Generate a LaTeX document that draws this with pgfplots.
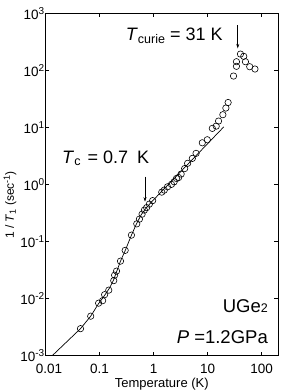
\documentclass[border=0pt]{standalone}
\usepackage{pgfplots}
\pgfplotsset{compat=1.18}
\usepackage{pgfplotstable}
\usepackage{fontspec}
\setmainfont{Liberation Sans}
\usetikzlibrary{arrows.meta}

\newcommand{\tenp}[1]{10\raisebox{5bp}{\fontsize{10bp}{10bp}\selectfont #1}}

\pgfplotstableread{
T R
0.0444 0.00298
0.0686 0.00493
0.0961 0.00834
0.114 0.00923
0.124 0.01175
0.148 0.0141
0.183 0.0207
0.190 0.0258
0.206 0.0304
0.244 0.0455
0.298 0.0703
0.389 0.130
0.488 0.205
0.546 0.248
0.612 0.303
0.675 0.357
0.743 0.395
0.834 0.455
0.959 0.524
1.415 0.738
1.574 0.801
1.808 0.915
2.14 1.01
2.40 1.12
2.65 1.28
2.90 1.33
3.23 1.53
3.75 1.91
4.26 2.36
5.21 2.88
6.10 3.53
7.96 5.41
9.84 6.11
12.2 9.68
14.4 10.6
15.9 13.0
19.1 16.8
21.7 22.0
23.9 27.5
30.1 80.1
34.1 118.6
34.1 142.7
40.4 194.6
46.5 177.5
50.0 142.7
60.0 116.6
75.0 106.3
}\circdata

\pgfplotstableread{
T R
0.0133 0.001
0.0444 0.00298
0.0686 0.00493
0.096 0.0082
0.124 0.0114
0.153 0.0154
0.181 0.0211
0.244 0.0455
0.30 0.0707
0.389 0.130
0.48 0.203
0.59 0.297
0.73 0.39
0.94 0.51
19.9 10.3
}\fitdata

\begin{document}
\begin{tikzpicture}
\begin{axis}[
  scale only axis, width=232.5bp, height=342.2bp,
  xmode=log, ymode=log,
  xmin=0.01, xmax=200, ymin=1e-3, ymax=1e3,
  xtick={0.01,0.1,1,10,100},
  xticklabels={\hspace*{7bp}0.01,0.1,1,10,100},
  ytick={1e-3,1e-2,1e-1,1,10,100,1000},
  yticklabels={\tenp{-3},\tenp{-2},\tenp{-1},\tenp{0},\tenp{1},\tenp{2},\tenp{3}},
  xminorticks=false, yminorticks=false,
  tick align=inside, major tick length=4bp,
  tick style={line width=0.6bp, black},
  axis line style={line width=0.8bp},
  every tick label/.append style={font=\fontsize{13.5bp}{14bp}\selectfont},
  yticklabel style={inner sep=1bp},
  xticklabel style={yshift=-4.5bp},
  xlabel={Temperature (K)},
  xlabel style={font=\fontsize{13bp}{14bp}\selectfont, at={(axis description cs:0.5,-0.0915)}, anchor=base},
  ylabel={1 / \textit{T}\raisebox{-2bp}{\fontsize{9bp}{9bp}\selectfont 1} (sec\raisebox{4bp}{\fontsize{9bp}{9bp}\selectfont -1})},
  ylabel style={font=\fontsize{12bp}{13bp}\selectfont, at={(axis description cs:-0.153,0.44)}, anchor=center},
]
\addplot[black, line width=0.7bp, no marks] table[x=T,y=R] {\fitdata};
\addplot[black, only marks, mark=o, mark size=3.2bp, mark options={line width=0.6bp}] table[x=T,y=R] {\circdata};

\node[anchor=base west, font=\fontsize{18bp}{18bp}\selectfont, inner sep=0pt] at (rel axis cs:0.071,0.563)
  {\textit{T}\raisebox{-2bp}{\fontsize{12.5bp}{12.5bp}\selectfont c}\hspace{7bp}= 0.7\hspace{9bp}K};
\node[anchor=base west, font=\fontsize{18bp}{18bp}\selectfont, inner sep=0pt] at (rel axis cs:0.345,0.9205)
  {\textit{T}\raisebox{-2.5bp}{\fontsize{12.5bp}{12.5bp}\selectfont curie} = 31 K};
\node[anchor=base east, font=\fontsize{18.5bp}{18.5bp}\selectfont, inner sep=0pt] at (rel axis cs:0.957,0.125)
  {UGe{\fontsize{12.5bp}{12.5bp}\selectfont 2}};
\node[anchor=base east, font=\fontsize{18.5bp}{18.5bp}\selectfont, inner sep=0pt] at (rel axis cs:0.957,0.037)
  {\textit{P} =1.2GPa};
\draw[line width=0.6bp, -{Stealth[length=4.5bp,width=3bp]}] (rel axis cs:0.428,0.523) -- (rel axis cs:0.428,0.450);
\draw[line width=0.6bp, -{Stealth[length=4.5bp,width=3bp]}] (rel axis cs:0.827,0.966) -- (rel axis cs:0.827,0.898);

\coordinate (bl) at (rel axis cs:0,0);
\coordinate (tr) at (rel axis cs:1,1);
\end{axis}
\pgfresetboundingbox
\path ([xshift=-45.5bp,yshift=-35.3bp]bl) rectangle ([xshift=3bp,yshift=13.5bp]tr);
\end{tikzpicture}
\end{document}
